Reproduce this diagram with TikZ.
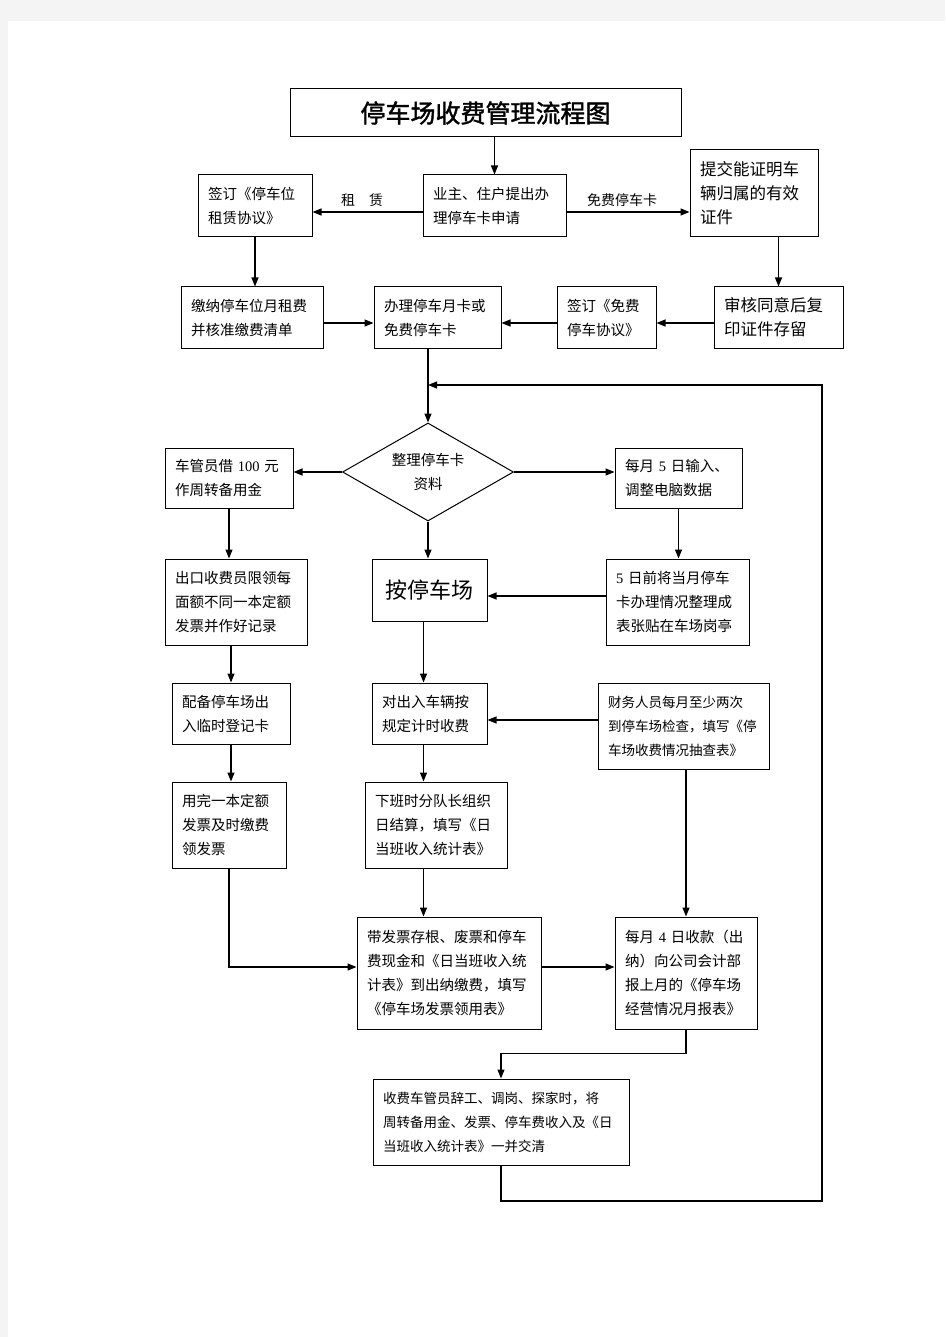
\documentclass[tikz,border=0pt]{standalone}
\usepackage{fontspec}
\newfontfamily\cjk{Noto Sans CJK SC}
\newfontfamily\cjkhead[FakeBold=1.5]{Noto Sans CJK SC}
\newfontfamily\numfont{Liberation Serif}
\usetikzlibrary{arrows.meta}
\usetikzlibrary{shapes.geometric}
\usetikzlibrary{positioning, calc}

\tikzset{
  box/.style={draw, line width=1pt, inner xsep=10pt, inner ysep=0pt, align=left,
    font=\cjk\fontsize{14.5}{24}\selectfont},
  bigbox/.style={box, font=\cjk\fontsize{16.5}{24}\selectfont},
  smallbox/.style={box, font=\cjk\fontsize{13.5}{24}\selectfont},
  arr/.style={-{Triangle[length=9pt,width=7pt]}, line width=1.2pt},
  lbl/.style={font=\cjk\fontsize{14}{16}\selectfont},
}

\begin{document}
\begin{tikzpicture}[x=1pt, y=-1pt]
\useasboundingbox (0,0) rectangle (945,1337);
\fill[gray!9] (0,0) rectangle (945,1337);
\fill[white] (8,21) rectangle (945,1337);

% title and application
\node[box, text width=371pt, minimum height=48, align=center,
  font=\cjkhead\fontsize{25}{30}\selectfont] (title) at (485.5,113) {停车场收费管理流程图};
\node[box, text width=123pt, minimum height=62] (apply) at (494.5,206) {业主、住户提出办\\理停车卡申请};
\node[box, text width=94pt, minimum height=62] (lease) at (255,206) {签订《停车位\\租赁协议》};
\node[bigbox, text width=108pt, minimum height=87] (proof) at (754,193.5) {提交能证明车\\辆归属的有效\\证件};
\node[lbl] (rent) at (362,200) {租　赁};
\node[lbl] (freecard) at (622,200) {免费停车卡};

% second row
\node[box, text width=122pt, minimum height=61] (pay) at (252,317.5) {缴纳停车位月租费\\并核准缴费清单};
\node[box, text width=107pt, minimum height=61] (card) at (437.5,317.5) {办理停车月卡或\\免费停车卡};
\node[box, text width=79pt, minimum height=61] (free) at (606.5,317.5) {签订《免费\\停车协议》};
\node[bigbox, text width=109pt, minimum height=61] (check) at (778.5,317.5) {审核同意后复\\印证件存留};

% sorting the card data
\node[diamond, draw, line width=1pt, aspect=1.75, minimum width=171, minimum height=98,
  inner sep=0pt, align=center, font=\cjk\fontsize{14.5}{24}\selectfont] (dia) at (428,472) {整理停车卡\\资料};
\node[box, text width=108pt, minimum height=60] (fund) at (229,478) {车管员借 {\numfont 100} 元\\作周转备用金};
\node[box, text width=107pt, minimum height=60] (input) at (678.5,478) {每月 {\numfont 5} 日输入、\\调整电脑数据};

\node[box, text width=122pt, minimum height=86] (invoice) at (236,602) {出口收费员限领每\\面额不同一本定额\\发票并作好记录};
\node[box, text width=95pt, minimum height=62, align=center,
  font=\cjk\fontsize{22}{26}\selectfont] (bypark) at (429.5,590) {按停车场};
\node[box, text width=123pt, minimum height=86] (post) at (677.5,602) {{\numfont 5} 日前将当月停车\\卡办理情况整理成\\表张贴在车场岗亭};

\node[box, text width=98pt, minimum height=61] (regcard) at (231,713.5) {配备停车场出\\入临时登记卡};
\node[box, text width=95pt, minimum height=61] (timing) at (429.5,713.5) {对出入车辆按\\规定计时收费};
\node[smallbox, text width=151pt, minimum height=86] (audit) at (683.5,726) {财务人员每月至少两次\\到停车场检查，填写《停\\车场收费情况抽查表》};

\node[box, text width=94pt, minimum height=86] (useup) at (229,825) {用完一本定额\\发票及时缴费\\领发票};
\node[box, text width=122pt, minimum height=86] (settle) at (436,825) {下班时分队长组织\\日结算，填写《日\\当班收入统计表》};

\node[box, text width=164pt, minimum height=112] (deliver) at (449,973) {带发票存根、废票和停车\\费现金和《日当班收入统\\计表》到出纳缴费，填写\\《停车场发票领用表》};
\node[box, text width=122pt, minimum height=112] (report) at (686,973) {每月 {\numfont 4} 日收款（出\\纳）向公司会计部\\报上月的《停车场\\经营情况月报表》};

\node[smallbox, text width=236pt, minimum height=86] (leave) at (501,1122) {收费车管员辞工、调岗、探家时，将\\周转备用金、发票、停车费收入及《日\\当班收入统计表》一并交清};

% connectors
\draw[arr] (title.south -| apply.north) -- (apply.north);
\draw[arr] ([yshift=-6pt]apply.west) -- ([yshift=-6pt]lease.east);
\draw[arr] ([yshift=-6pt]apply.east) -- ([yshift=-6pt]apply.east -| proof.west);
\draw[arr] (lease.south) -- (lease.south |- pay.north);
\draw[arr] (check.north |- proof.south) -- (check.north);
\draw[arr] ([yshift=-5.5pt]check.west) -- ([yshift=-5.5pt]free.east);
\draw[arr] ([yshift=-5.5pt]free.west) -- ([yshift=-5.5pt]card.east);
\draw[arr] ([yshift=-5.5pt]pay.east) -- ([yshift=-5.5pt]card.west);
\draw[arr] (card.south -| dia.north) -- (dia.north);

\draw[arr] (dia.west) -- (dia.west -| fund.east);
\draw[arr] (dia.east) -- (dia.east -| input.west);
\draw[arr] (dia.south) -- (dia.south |- bypark.north);
\draw[arr] (fund.south) -- (fund.south |- invoice.north);
\draw[arr] (input.south) -- (input.south |- post.north);
\draw[arr] ([yshift=6pt]post.west) -- ([yshift=6pt]post.west -| bypark.east);

\draw[arr] (regcard.north |- invoice.south) -- (regcard.north);
\draw[arr] ([xshift=-6pt]bypark.south) -- ([xshift=-6pt]timing.north);
\draw[arr] ([yshift=6pt]audit.west) -- ([yshift=6pt]audit.west -| timing.east);
\draw[arr] (regcard.south) -- (regcard.south |- useup.north);
\draw[arr] ([xshift=-6pt]timing.south) -- ([xshift=-6pt]timing.south |- settle.north);
\draw[arr] ([xshift=-6pt]timing.south |- settle.south) -- ([xshift=-6pt]timing.south |- deliver.north);
\draw[arr] (useup.south) |- ([yshift=6pt]deliver.west);
\draw[arr] ([yshift=6pt]deliver.east) -- ([yshift=6pt]deliver.east -| report.west);
\draw[arr] (audit.south -| report.north) -- (report.north);
\draw[arr] (report.south) -- ++(0,24) -| (leave.north);

% back to the card data
\coordinate (back) at (822,1201);
\coordinate (up) at (822,385);
\draw[arr] (leave.south) |- (back) -- (up) -- (up -| dia.north);

\end{tikzpicture}
\end{document}
